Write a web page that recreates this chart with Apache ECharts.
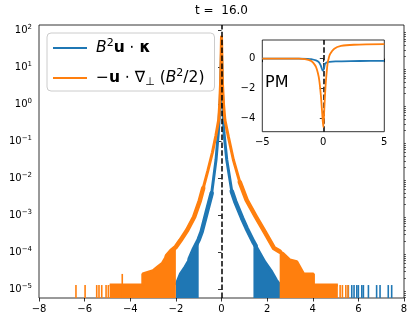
<!DOCTYPE html>
<html>
<head>
<meta charset="utf-8">
<script src="https://cdn.jsdelivr.net/npm/echarts@6/dist/echarts.min.js"></script>
<style>
  html, body { margin: 0; padding: 0; background: #fff; }
  #chart { width: 415px; height: 323px; }
</style>
</head>
<body>
<div id="chart"></div>
<script>
// histogram outlines, [x, density]
var blueCurve = [
  [-2.0, 1.3e-5], [-1.8, 2.6e-5], [-1.6, 4.0e-5], [-1.4, 6.5e-5], [-1.23, 1.15e-4],
  [-1.0, 2.2e-4], [-0.87, 3.6e-4], [-0.65, 1.2e-3], [-0.43, 4.0e-3], [-0.24, 3.2e-2],
  [-0.14, 1.7e-1], [-0.05, 1.5], [0, 25], [0.05, 1.5], [0.11, 1.7e-1], [0.23, 3.2e-2],
  [0.45, 4.5e-3], [0.6, 2.4e-3], [0.9, 8.5e-4], [1.1, 4.5e-4], [1.4, 1.9e-4],
  [1.5, 1.5e-4], [1.9, 5.5e-5], [2.2, 3.0e-5], [2.4, 1.8e-5], [2.57, 1.3e-5]
];
var orangeCurve = [
  [-4.9, 1.3e-5], [-3.45, 1.3e-5], [-3.45, 2.6e-5], [-3.0, 3.2e-5], [-2.8, 4.0e-5],
  [-2.6, 5.0e-5], [-2.4, 8.0e-5], [-2.2, 1.1e-4], [-2.0, 1.4e-4], [-1.8, 2.1e-4],
  [-1.5, 4.0e-4], [-1.2, 9.0e-4], [-0.95, 2.5e-3], [-0.8, 5.5e-3], [-0.6, 1.6e-2],
  [-0.4, 5.0e-2], [-0.25, 1.4e-1], [-0.12, 4.0e-1], [-0.08, 1.0], [-0.04, 4.0], [0, 72],
  [0.04, 4.0], [0.09, 1.0], [0.15, 3.8e-1], [0.3, 1.35e-1], [0.52, 3.2e-2], [0.8, 8.0e-3],
  [1.1, 2.6e-3], [1.5, 9.3e-4], [1.9, 3.5e-4], [2.3, 1.3e-4], [2.55, 1.05e-4],
  [2.7, 9.3e-5], [3.0, 6.2e-5], [3.3, 5.6e-5], [3.6, 2.6e-5], [4.03, 2.6e-5],
  [4.03, 1.3e-5], [5.1, 1.3e-5]
];
// x ranges where empty bins make the step line look filled down to the axis
var blueFilled = [[-2.0, -1.0], [1.4, 2.57]];
var orangeFilled = [[-4.9, -2.0], [2.55, 5.1]];
// x ranges where the step line is noisy and looks like a thick band
var blueNoisy = [[-1.4, -0.43], [0.45, 1.5]];
var orangeNoisy = [[-2.4, -0.8], [0.8, 2.55]];
// isolated bins in the far tails
var blueSpikes = [
  [5.56, 1.3e-5], [5.71, 1.3e-5], [5.81, 1.3e-5], [5.93, 1.3e-5], [6.0, 1.3e-5], [6.15, 1.3e-5],
  [6.22, 1.3e-5], [6.44, 1.3e-5], [6.8, 1.3e-5], [6.95, 1.3e-5], [7.31, 1.3e-5], [7.46, 1.3e-5]
];
var orangeSpikes = [
  [-6.38, 1.3e-5], [-5.98, 1.3e-5], [-5.47, 1.3e-5], [-5.37, 1.3e-5], [-5.25, 1.3e-5],
  [-5.06, 1.3e-5], [-4.96, 1.3e-5], [-4.35, 2.6e-5],
  [5.2, 1.3e-5], [5.3, 1.3e-5], [5.45, 1.3e-5], [5.55, 1.3e-5]
];
// inset "PM"
var insetBlue = [
  [-5, 0], [-2, 0], [-1.3, -0.01], [-1, -0.03], [-0.6, -0.12], [-0.35, -0.25], [-0.19, -0.5],
  [-0.05, -0.8], [0.05, -0.7], [0.14, -0.35], [0.3, -0.25], [0.5, -0.22], [1, -0.19],
  [1.5, -0.18], [3, -0.16], [5, -0.15]
];
var insetOrange = [
  [-5, 0], [-2, 0], [-1.5, -0.03], [-1, -0.15], [-0.8, -0.3], [-0.6, -0.55], [-0.45, -0.95],
  [-0.33, -1.45], [-0.19, -2.55], [-0.08, -3.8], [0, -4.6], [0.08, -3.4], [0.15, -2.3],
  [0.22, -1.45], [0.35, -0.33], [0.45, 0.05], [0.57, 0.33], [0.9, 0.67], [1.45, 0.85],
  [2.5, 0.93], [5, 0.97]
];
var yTicks = [1e-5, 1e-4, 1e-3, 1e-2, 1e-1, 1, 10, 100];
var insetYTicks = [-4, -2, 0];

var yMin = 5.8e-6, yMax = 142;
var BLUE = '#1f77b4', ORANGE = '#ff7f0e';
var FONT = 'DejaVu Sans';

var minorTicks = [];
for (var d = 1e-6; d < 1e3; d *= 10) {
  for (var k = 2; k < 10; k++) {
    var v = d * k;
    if (v > yMin && v < yMax) minorTicks.push(v);
  }
}

function minus(s) { return String(s).replace('-', '\u2212'); }

function inRange(curve, r) {
  return curve.filter(function (p) { return p[0] >= r[0] && p[0] <= r[1]; });
}

function fillSeries(name, curve, ranges, color, z) {
  return ranges.map(function (r) {
    return {
      type: 'line', name: name, xAxisIndex: 0, yAxisIndex: 0, z: z,
      data: inRange(curve, r), symbol: 'none', silent: true,
      itemStyle: { color: color },
      lineStyle: { width: 1, color: color },
      areaStyle: { color: color, opacity: 1, origin: 'start' }
    };
  });
}

function bandSeries(name, curve, ranges, color, z) {
  return ranges.map(function (r) {
    return {
      type: 'line', name: name, xAxisIndex: 0, yAxisIndex: 0, z: z,
      data: inRange(curve, r), symbol: 'none', silent: true,
      itemStyle: { color: color },
      lineStyle: { width: 4.5, color: color, cap: 'round', join: 'round' }
    };
  });
}

function spikeSeries(name, data, color, z) {
  return {
    type: 'custom', name: name, xAxisIndex: 0, yAxisIndex: 0, z: z, data: data, silent: true,
    itemStyle: { color: color },
    renderItem: function (params, api) {
      var top = api.coord([api.value(0), api.value(1)]);
      var base = api.coord([api.value(0), yMin]);
      return {
        type: 'rect',
        shape: { x: top[0] - 0.8, y: top[1], width: 1.6, height: base[1] - top[1] },
        style: { fill: color }
      };
    }
  };
}

var chart = echarts.init(document.getElementById('chart'), null, { renderer: 'canvas' });

var series = [
  { type: 'line', name: 'blue', xAxisIndex: 0, yAxisIndex: 0, z: 2, data: blueCurve,
    symbol: 'none', itemStyle: { color: BLUE }, lineStyle: { width: 3, color: BLUE } }
].concat(fillSeries('blue', blueCurve, blueFilled, BLUE, 2))
 .concat(bandSeries('blue', blueCurve, blueNoisy, BLUE, 2))
 .concat([spikeSeries('blue', blueSpikes, BLUE, 2)])
 .concat([
  { type: 'line', name: 'orange', xAxisIndex: 0, yAxisIndex: 0, z: 3, data: orangeCurve,
    symbol: 'none', itemStyle: { color: ORANGE }, lineStyle: { width: 3, color: ORANGE } }
 ])
 .concat(fillSeries('orange', orangeCurve, orangeFilled, ORANGE, 3))
 .concat(bandSeries('orange', orangeCurve, orangeNoisy, ORANGE, 3))
 .concat([spikeSeries('orange', orangeSpikes, ORANGE, 3)])
 .concat([
  { type: 'line', name: 'zero', xAxisIndex: 0, yAxisIndex: 0, z: 5, data: [],
    markLine: { silent: true, symbol: 'none', label: { show: false },
      lineStyle: { color: '#000', width: 1.5, type: [5.5, 2.4] },
      data: [{ xAxis: 0 }] } },
  { type: 'line', name: 'inset-b', xAxisIndex: 1, yAxisIndex: 2, z: 6, data: insetBlue,
    symbol: 'none', smooth: 0.3, lineStyle: { width: 1.8, color: BLUE } },
  { type: 'line', name: 'inset-o', xAxisIndex: 1, yAxisIndex: 2, z: 7, data: insetOrange,
    symbol: 'none', smooth: 0.3, lineStyle: { width: 1.8, color: ORANGE } },
  { type: 'line', name: 'inset-zero', xAxisIndex: 1, yAxisIndex: 2, z: 8, data: [],
    markLine: { silent: true, symbol: 'none', label: { show: false },
      lineStyle: { color: '#000', width: 1.5, type: [5.5, 2.4] },
      data: [{ xAxis: 0 }] } }
 ]);

var tickStyle = { color: '#000', width: 0.8 };
var labelBase = { color: '#000', fontFamily: FONT, fontSize: 10 };
var FS = 15.5;

chart.setOption({
  animation: false,
  backgroundColor: '#fff',
  grid: [
    { left: 39, top: 25, width: 365, height: 273, show: true, borderColor: '#000', borderWidth: 0.8,
      backgroundColor: 'transparent', outerBoundsMode: 'none' },
    { left: 262.3, top: 40, width: 122, height: 91.7, show: true, borderColor: '#000', borderWidth: 0.8,
      backgroundColor: '#fff', outerBoundsMode: 'none', z: 4 }
  ],
  xAxis: [
    { type: 'value', gridIndex: 0, min: -8, max: 8, interval: 2,
      axisLine: { show: false }, splitLine: { show: false },
      axisTick: { length: 3.5, lineStyle: tickStyle },
      axisLabel: Object.assign({ margin: 6.5, formatter: function (v) { return minus(v); } }, labelBase) },
    { type: 'value', gridIndex: 1, min: -5, max: 5, interval: 5, z: 6,
      axisLine: { show: false }, splitLine: { show: false },
      axisTick: { length: 3.5, lineStyle: tickStyle },
      axisLabel: Object.assign({ margin: 6, formatter: function (v) { return minus(v); } }, labelBase) }
  ],
  yAxis: [
    { type: 'log', logBase: 10, gridIndex: 0, min: yMin, max: yMax,
      axisLine: { show: false }, splitLine: { show: false }, minorTick: { show: false },
      axisTick: { length: 3.5, lineStyle: tickStyle, customValues: yTicks },
      axisLabel: Object.assign({
        margin: 7, lineHeight: 14, customValues: yTicks,
        formatter: function (v) {
          return '10{sup|' + minus(Math.round(Math.log10(v))) + '}';
        },
        rich: { sup: { fontSize: 7, fontFamily: FONT, color: '#000', verticalAlign: 'top', lineHeight: 6 } }
      }, labelBase) },
    { type: 'log', logBase: 10, gridIndex: 0, min: yMin, max: yMax,
      axisLine: { show: false }, splitLine: { show: false }, axisLabel: { show: false },
      axisTick: { length: 2, lineStyle: { color: '#000', width: 0.6 }, customValues: minorTicks } },
    { type: 'value', gridIndex: 1, min: -4.9, max: 1.25, z: 6,
      axisLine: { show: false }, splitLine: { show: false },
      axisTick: { length: 3.5, lineStyle: tickStyle, customValues: insetYTicks },
      axisLabel: Object.assign({ margin: 7, customValues: insetYTicks,
        formatter: function (v) { return minus(v); } }, labelBase) }
  ],
  legend: {
    data: [
      { name: 'blue', itemStyle: { color: BLUE } },
      { name: 'orange', itemStyle: { color: ORANGE } }
    ],
    orient: 'vertical', left: 47, top: 33,
    icon: 'rect', itemWidth: 34, itemHeight: 2, itemGap: 10,
    padding: [5, 10, 3, 6],
    backgroundColor: 'rgba(255,255,255,0.8)', borderColor: '#cccccc', borderWidth: 1, borderRadius: 4,
    selectedMode: false,
    formatter: function (name) {
      if (name === 'blue') return '{p|}{i|B}{sup|2}{b|u}{n| \u22c5 }{b|\u03ba}';
      return '{p|}{n|\u2212}{b|u}{n| \u22c5 \u2207}{sub|\u22a5}{n| (}{i|B}{sup|2}{n|/2)}';
    },
    textStyle: {
      color: '#000', fontFamily: FONT, fontSize: FS, lineHeight: 20,
      rich: {
        p: { width: 4, lineHeight: 20 },
        n: { fontFamily: FONT, fontSize: FS, lineHeight: 20 },
        i: { fontFamily: FONT, fontSize: FS, fontStyle: 'italic', lineHeight: 20 },
        b: { fontFamily: FONT, fontSize: FS, fontWeight: 'bold', lineHeight: 20 },
        sup: { fontFamily: FONT, fontSize: 11, lineHeight: 12, verticalAlign: 'top' },
        sub: { fontFamily: FONT, fontSize: 11, lineHeight: 14, verticalAlign: 'bottom' }
      }
    }
  },
  graphic: [
    { type: 'text', x: 221.5, y: 11, z: 10,
      style: { text: 't =  16.0', fontFamily: FONT, fontSize: 12, fill: '#000', align: 'center', verticalAlign: 'middle' } },
    { type: 'text', x: 265, y: 83, z: 10,
      style: { text: 'PM', fontFamily: FONT, fontSize: 16, fill: '#000', align: 'left', verticalAlign: 'middle' } }
  ],
  series: series
});
</script>
</body>
</html>
